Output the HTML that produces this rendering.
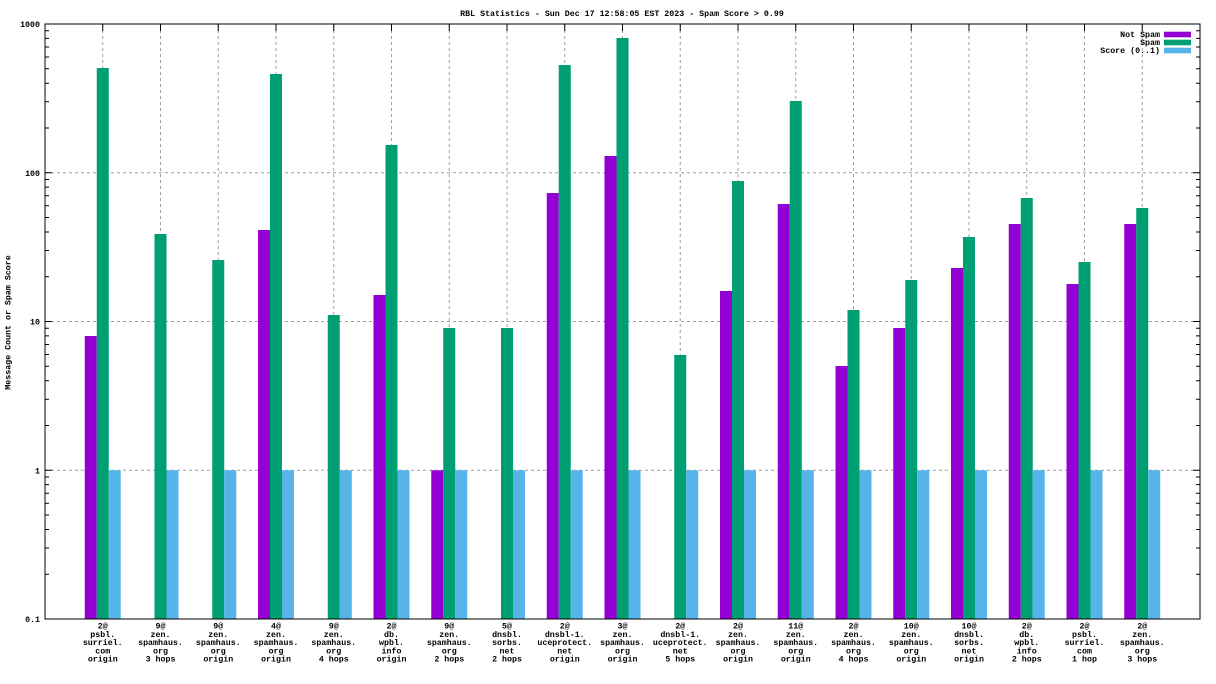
<!DOCTYPE html>
<html><head><meta charset="utf-8"><style>
html,body{margin:0;padding:0;background:#fff;}
svg{display:block;}
text{font-family:"Liberation Mono",monospace;font-size:8.3px;fill:#000;font-weight:bold;}
</style></head><body>
<svg width="1216" height="684" viewBox="0 0 1216 684" xmlns="http://www.w3.org/2000/svg">
<rect x="0" y="0" width="1216" height="684" fill="#fff"/>
<!-- grid -->
<g stroke="#a0a0a0" stroke-width="1" stroke-dasharray="3,3" fill="none">
<path d="M45 172.75H1200M45 321.5H1200M45 470.25H1200"/>
<path d="M102.75 24V619M160.5 24V619M218.25 24V619M276 24V619M333.75 24V619M391.5 24V619M449.25 24V619M507 24V619M564.75 24V619M622.5 24V619M680.25 24V619M738 24V619M795.75 24V619M853.5 24V619M911.25 24V619M969 24V619M1026.75 24V619M1084.5 24V619M1142.25 24V619"/>
</g>
<!-- Not Spam (purple) -->
<g fill="#9400d3">
<rect x="84.75" y="336" width="12" height="283"/>
<rect x="258" y="230" width="12" height="389"/>
<rect x="373.5" y="295" width="12" height="324"/>
<rect x="431.25" y="470.25" width="12" height="148.75"/>
<rect x="546.75" y="193" width="12" height="426"/>
<rect x="604.5" y="156" width="12" height="463"/>
<rect x="720" y="291" width="12" height="328"/>
<rect x="777.75" y="204" width="12" height="415"/>
<rect x="835.5" y="366" width="12" height="253"/>
<rect x="893.25" y="328" width="12" height="291"/>
<rect x="951" y="268" width="12" height="351"/>
<rect x="1008.75" y="224" width="12" height="395"/>
<rect x="1066.5" y="284" width="12" height="335"/>
<rect x="1124.25" y="224" width="12" height="395"/>
</g>
<!-- Spam (green) -->
<g fill="#009e73">
<rect x="96.75" y="68" width="12" height="551"/>
<rect x="154.5" y="234" width="12" height="385"/>
<rect x="212.25" y="260" width="12" height="359"/>
<rect x="270" y="74" width="12" height="545"/>
<rect x="327.75" y="315" width="12" height="304"/>
<rect x="385.5" y="145" width="12" height="474"/>
<rect x="443.25" y="328" width="12" height="291"/>
<rect x="501" y="328" width="12" height="291"/>
<rect x="558.75" y="65" width="12" height="554"/>
<rect x="616.5" y="38" width="12" height="581"/>
<rect x="674.25" y="355" width="12" height="264"/>
<rect x="732" y="181" width="12" height="438"/>
<rect x="789.75" y="101" width="12" height="518"/>
<rect x="847.5" y="310" width="12" height="309"/>
<rect x="905.25" y="280" width="12" height="339"/>
<rect x="963" y="237" width="12" height="382"/>
<rect x="1020.75" y="198" width="12" height="421"/>
<rect x="1078.5" y="262" width="12" height="357"/>
<rect x="1136.25" y="208" width="12" height="411"/>
</g>
<!-- Score (blue) -->
<g fill="#56b4e9">
<rect x="108.75" y="470.25" width="12" height="148.75"/>
<rect x="166.5" y="470.25" width="12" height="148.75"/>
<rect x="224.25" y="470.25" width="12" height="148.75"/>
<rect x="282" y="470.25" width="12" height="148.75"/>
<rect x="339.75" y="470.25" width="12" height="148.75"/>
<rect x="397.5" y="470.25" width="12" height="148.75"/>
<rect x="455.25" y="470.25" width="12" height="148.75"/>
<rect x="513" y="470.25" width="12" height="148.75"/>
<rect x="570.75" y="470.25" width="12" height="148.75"/>
<rect x="628.5" y="470.25" width="12" height="148.75"/>
<rect x="686.25" y="470.25" width="12" height="148.75"/>
<rect x="744" y="470.25" width="12" height="148.75"/>
<rect x="801.75" y="470.25" width="12" height="148.75"/>
<rect x="859.5" y="470.25" width="12" height="148.75"/>
<rect x="917.25" y="470.25" width="12" height="148.75"/>
<rect x="975" y="470.25" width="12" height="148.75"/>
<rect x="1032.75" y="470.25" width="12" height="148.75"/>
<rect x="1090.5" y="470.25" width="12" height="148.75"/>
<rect x="1148.25" y="470.25" width="12" height="148.75"/>
</g>
<!-- border & ticks -->
<g stroke="#000" stroke-width="1" fill="none">
<rect x="45" y="24" width="1155" height="595"/>
<path d="M45 24H52M45 172.75H52M45 321.5H52M45 470.25H52M45 619H52M1200 24H1193M1200 172.75H1193M1200 321.5H1193M1200 470.25H1193"/>
<path d="M45 574.22H49M45 548.03H49M45 529.44H49M45 515.03H49M45 503.25H49M45 493.29H49M45 484.67H49M45 477.06H49
M45 425.47H49M45 399.28H49M45 380.69H49M45 366.28H49M45 354.5H49M45 344.54H49M45 335.92H49M45 328.31H49
M45 276.72H49M45 250.53H49M45 231.94H49M45 217.53H49M45 205.75H49M45 195.79H49M45 187.17H49M45 179.56H49
M45 127.97H49M45 101.78H49M45 83.19H49M45 68.78H49M45 57H49M45 47.04H49M45 38.42H49M45 30.81H49"/>
<path d="M1200 574.22H1196M1200 548.03H1196M1200 529.44H1196M1200 515.03H1196M1200 503.25H1196M1200 493.29H1196M1200 484.67H1196M1200 477.06H1196
M1200 425.47H1196M1200 399.28H1196M1200 380.69H1196M1200 366.28H1196M1200 354.5H1196M1200 344.54H1196M1200 335.92H1196M1200 328.31H1196
M1200 276.72H1196M1200 250.53H1196M1200 231.94H1196M1200 217.53H1196M1200 205.75H1196M1200 195.79H1196M1200 187.17H1196M1200 179.56H1196
M1200 127.97H1196M1200 101.78H1196M1200 83.19H1196M1200 68.78H1196M1200 57H1196M1200 47.04H1196M1200 38.42H1196M1200 30.81H1196"/>
<path d="M102.75 24V31M160.5 24V31M218.25 24V31M276 24V31M333.75 24V31M391.5 24V31M449.25 24V31M507 24V31M564.75 24V31M622.5 24V31M680.25 24V31M738 24V31M795.75 24V31M853.5 24V31M911.25 24V31M969 24V31M1026.75 24V31M1084.5 24V31M1142.25 24V31"/>
</g>
<!-- title -->
<text x="622" y="16" text-anchor="middle">RBL Statistics - Sun Dec 17 12:58:05 EST 2023 - Spam Score &gt; 0.99</text>
<!-- y tick labels -->
<g text-anchor="end">
<text x="40" y="27">1000</text>
<text x="40" y="175.75">100</text>
<text x="40" y="324.5">10</text>
<text x="40" y="473.25">1</text>
<text x="40" y="622">0.1</text>
</g>
<!-- y label -->
<text transform="translate(10.5,322.5) rotate(-90)" text-anchor="middle">Message Count or Spam Score</text>
<!-- legend -->
<g text-anchor="end">
<text x="1160" y="37">Not Spam</text>
<text x="1160" y="45">Spam</text>
<text x="1160" y="53">Score (0..1)</text>
</g>
<rect x="1164" y="31.7" width="27" height="5.6" fill="#9400d3"/>
<rect x="1164" y="39.7" width="27" height="5.6" fill="#009e73"/>
<rect x="1164" y="47.7" width="27" height="5.6" fill="#56b4e9"/>
<!-- x labels -->
<g text-anchor="middle">
<text x="102.75" y="628.5">2@<tspan x="102.75" dy="8.3">psbl.</tspan><tspan x="102.75" dy="8.3">surriel.</tspan><tspan x="102.75" dy="8.3">com</tspan><tspan x="102.75" dy="8.3">origin</tspan></text>
<text x="160.5" y="628.5">9@<tspan x="160.5" dy="8.3">zen.</tspan><tspan x="160.5" dy="8.3">spamhaus.</tspan><tspan x="160.5" dy="8.3">org</tspan><tspan x="160.5" dy="8.3">3 hops</tspan></text>
<text x="218.25" y="628.5">9@<tspan x="218.25" dy="8.3">zen.</tspan><tspan x="218.25" dy="8.3">spamhaus.</tspan><tspan x="218.25" dy="8.3">org</tspan><tspan x="218.25" dy="8.3">origin</tspan></text>
<text x="276" y="628.5">4@<tspan x="276" dy="8.3">zen.</tspan><tspan x="276" dy="8.3">spamhaus.</tspan><tspan x="276" dy="8.3">org</tspan><tspan x="276" dy="8.3">origin</tspan></text>
<text x="333.75" y="628.5">9@<tspan x="333.75" dy="8.3">zen.</tspan><tspan x="333.75" dy="8.3">spamhaus.</tspan><tspan x="333.75" dy="8.3">org</tspan><tspan x="333.75" dy="8.3">4 hops</tspan></text>
<text x="391.5" y="628.5">2@<tspan x="391.5" dy="8.3">db.</tspan><tspan x="391.5" dy="8.3">wpbl.</tspan><tspan x="391.5" dy="8.3">info</tspan><tspan x="391.5" dy="8.3">origin</tspan></text>
<text x="449.25" y="628.5">9@<tspan x="449.25" dy="8.3">zen.</tspan><tspan x="449.25" dy="8.3">spamhaus.</tspan><tspan x="449.25" dy="8.3">org</tspan><tspan x="449.25" dy="8.3">2 hops</tspan></text>
<text x="507" y="628.5">5@<tspan x="507" dy="8.3">dnsbl.</tspan><tspan x="507" dy="8.3">sorbs.</tspan><tspan x="507" dy="8.3">net</tspan><tspan x="507" dy="8.3">2 hops</tspan></text>
<text x="564.75" y="628.5">2@<tspan x="564.75" dy="8.3">dnsbl-1.</tspan><tspan x="564.75" dy="8.3">uceprotect.</tspan><tspan x="564.75" dy="8.3">net</tspan><tspan x="564.75" dy="8.3">origin</tspan></text>
<text x="622.5" y="628.5">3@<tspan x="622.5" dy="8.3">zen.</tspan><tspan x="622.5" dy="8.3">spamhaus.</tspan><tspan x="622.5" dy="8.3">org</tspan><tspan x="622.5" dy="8.3">origin</tspan></text>
<text x="680.25" y="628.5">2@<tspan x="680.25" dy="8.3">dnsbl-1.</tspan><tspan x="680.25" dy="8.3">uceprotect.</tspan><tspan x="680.25" dy="8.3">net</tspan><tspan x="680.25" dy="8.3">5 hops</tspan></text>
<text x="738" y="628.5">2@<tspan x="738" dy="8.3">zen.</tspan><tspan x="738" dy="8.3">spamhaus.</tspan><tspan x="738" dy="8.3">org</tspan><tspan x="738" dy="8.3">origin</tspan></text>
<text x="795.75" y="628.5">11@<tspan x="795.75" dy="8.3">zen.</tspan><tspan x="795.75" dy="8.3">spamhaus.</tspan><tspan x="795.75" dy="8.3">org</tspan><tspan x="795.75" dy="8.3">origin</tspan></text>
<text x="853.5" y="628.5">2@<tspan x="853.5" dy="8.3">zen.</tspan><tspan x="853.5" dy="8.3">spamhaus.</tspan><tspan x="853.5" dy="8.3">org</tspan><tspan x="853.5" dy="8.3">4 hops</tspan></text>
<text x="911.25" y="628.5">10@<tspan x="911.25" dy="8.3">zen.</tspan><tspan x="911.25" dy="8.3">spamhaus.</tspan><tspan x="911.25" dy="8.3">org</tspan><tspan x="911.25" dy="8.3">origin</tspan></text>
<text x="969" y="628.5">10@<tspan x="969" dy="8.3">dnsbl.</tspan><tspan x="969" dy="8.3">sorbs.</tspan><tspan x="969" dy="8.3">net</tspan><tspan x="969" dy="8.3">origin</tspan></text>
<text x="1026.75" y="628.5">2@<tspan x="1026.75" dy="8.3">db.</tspan><tspan x="1026.75" dy="8.3">wpbl.</tspan><tspan x="1026.75" dy="8.3">info</tspan><tspan x="1026.75" dy="8.3">2 hops</tspan></text>
<text x="1084.5" y="628.5">2@<tspan x="1084.5" dy="8.3">psbl.</tspan><tspan x="1084.5" dy="8.3">surriel.</tspan><tspan x="1084.5" dy="8.3">com</tspan><tspan x="1084.5" dy="8.3">1 hop</tspan></text>
<text x="1142.25" y="628.5">2@<tspan x="1142.25" dy="8.3">zen.</tspan><tspan x="1142.25" dy="8.3">spamhaus.</tspan><tspan x="1142.25" dy="8.3">org</tspan><tspan x="1142.25" dy="8.3">3 hops</tspan></text>
</g>
</svg>
</body></html>
